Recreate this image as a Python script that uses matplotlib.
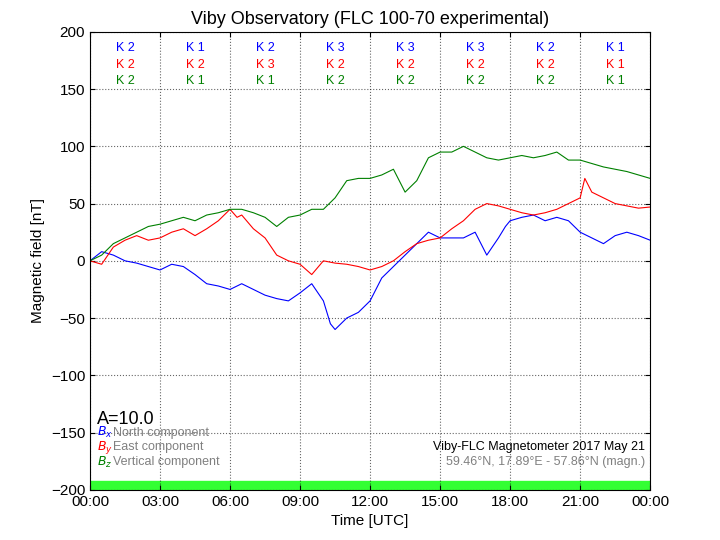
import matplotlib
matplotlib.use("Agg")
import matplotlib.pyplot as plt
import numpy as np

plt.rcParams['font.family'] = ['Liberation Sans', 'DejaVu Sans']

hours = [0,0.5,1,1.5,2,2.5,3,3.5,4,4.5,5,5.5,6,6.5,7,7.5,8,8.5,9,9.5,10,10.3,10.5,11,11.5,12,12.5,13,13.5,14,14.5,15,15.5,16,16.5,17,17.5,17.8,18,18.5,19,19.5,20,20.5,21,21.5,22,22.5,23,23.5,24]
bx = [0,8,5,0,-2,-5,-8,-3,-5,-12,-20,-22,-25,-20,-25,-30,-33,-35,-28,-20,-35,-55,-60,-50,-45,-35,-15,-5,5,15,25,20,20,20,25,5,20,30,35,38,40,35,38,35,25,20,15,22,25,22,18]
hours_y = [0,0.5,1,1.5,2,2.5,3,3.5,4,4.5,5,5.5,6,6.3,6.5,7,7.5,8,8.5,9,9.5,10,10.5,11,11.5,12,12.5,13,13.5,14,14.5,15,15.5,16,16.5,17,17.5,18,18.5,19,19.5,20,20.5,21,21.2,21.5,22,22.5,23,23.5,24]
by = [0,-3,12,18,22,18,20,25,28,22,28,35,45,38,40,28,20,5,0,-3,-12,0,-2,-3,-5,-8,-5,0,8,15,18,20,28,35,45,50,48,45,42,40,42,45,50,55,72,60,55,50,48,46,47]
hours_z = [0,0.5,1,1.5,2,2.5,3,3.5,4,4.5,5,5.5,6,6.5,7,7.5,8,8.5,9,9.5,10,10.5,11,11.5,12,12.5,13,13.5,14,14.5,15,15.5,16,16.5,17,17.5,18,18.5,19,19.5,20,20.5,21,21.5,22,22.5,23,23.5,24]
bz = [0,5,15,20,25,30,32,35,38,35,40,42,45,45,42,38,30,38,40,45,45,55,70,72,72,75,80,60,70,90,95,95,100,95,90,88,90,92,90,92,95,88,88,85,82,80,78,75,72]
k_x = ["K 2","K 1","K 2","K 3","K 3","K 3","K 2","K 1"]
k_y = ["K 2","K 2","K 3","K 2","K 2","K 2","K 2","K 1"]
k_z = ["K 2","K 1","K 1","K 2","K 2","K 2","K 2","K 1"]
xticklabels = ["00:00","03:00","06:00","09:00","12:00","15:00","18:00","21:00","00:00"]

fig = plt.figure(figsize=(7.2,5.4), dpi=100)
ax = fig.add_axes([0.125, 0.093, 0.778, 0.848])
ax.plot(hours, bx, color='blue', lw=0.8)
ax.plot(hours_y, by, color='red', lw=0.8)
ax.plot(hours_z, bz, color='green', lw=0.8)
ax.axhspan(-200, -192, color='#33ff33')
ax.set_xlim(0, 24)
ax.set_ylim(-200, 200)
ax.set_xticks(np.arange(0, 25, 3))
ax.set_xticklabels(xticklabels)
ax.set_yticks(np.arange(-200, 201, 50))
ax.grid(True, color='black', linestyle=':', lw=0.8, alpha=0.6)
ax.tick_params(direction='in', top=True, right=True, labelsize=11)
ax.set_xlabel("Time [UTC]", fontsize=11)
ax.set_ylabel("Magnetic field [nT]", fontsize=11)
ax.set_title("Viby Observatory (FLC 100-70 experimental)", fontsize=13)
for i in range(8):
    xc = i*3 + 1.5
    ax.text(xc, 186, k_x[i], color='blue', ha='center', va='center', fontsize=9)
    ax.text(xc, 171, k_y[i], color='red', ha='center', va='center', fontsize=9)
    ax.text(xc, 157, k_z[i], color='green', ha='center', va='center', fontsize=9)
ax.text(0.3, -139, "A=10.0", fontsize=13, va='center')
ax.text(0.3, -150, r"$B_x$", color='blue', fontsize=9, va='center')
ax.text(1.0, -150, "North component", color='gray', fontsize=9, va='center')
ax.text(0.3, -163, r"$B_y$", color='red', fontsize=9, va='center')
ax.text(1.0, -163, "East component", color='gray', fontsize=9, va='center')
ax.text(0.3, -176, r"$B_z$", color='green', fontsize=9, va='center')
ax.text(1.0, -176, "Vertical component", color='gray', fontsize=9, va='center')
ax.text(23.8, -163, "Viby-FLC Magnetometer 2017 May 21", fontsize=9, ha='right', va='center')
ax.text(23.8, -176, "59.46°N, 17.89°E - 57.86°N (magn.)", color='gray', fontsize=9, ha='right', va='center')
fig.savefig("out.png", dpi=100)
